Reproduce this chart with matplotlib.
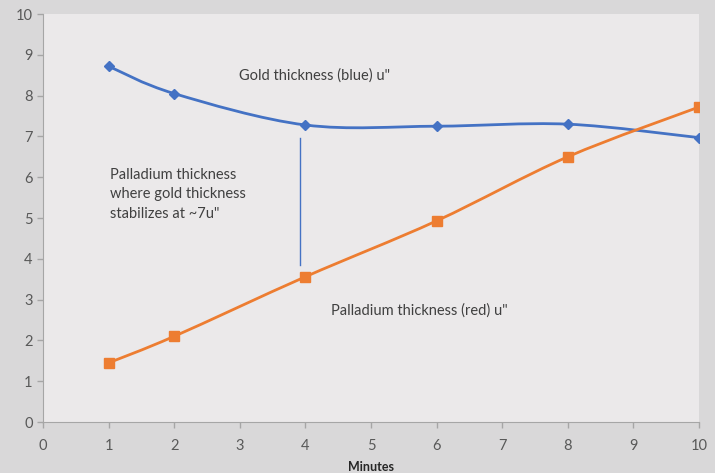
import matplotlib.pyplot as plt
import numpy as np
from matplotlib.path import Path
from matplotlib.patches import PathPatch

# data
minutes = [1, 2, 4, 6, 8, 10]
gold = [8.72, 8.05, 7.28, 7.25, 7.30, 6.97]
palladium = [1.45, 2.10, 3.56, 4.93, 6.50, 7.72]

x_ticks = list(range(0, 11))
y_ticks = list(range(0, 11))

BLUE = "#4472c4"
ORANGE = "#ed7d31"
TEXT = "#404040"
TICK = "#595959"

plt.rcParams["font.family"] = ["Lato", "DejaVu Sans"]


def smooth_path(xs, ys):
    # excel style smoothed line: catmull-rom segments as cubic beziers
    pts = np.column_stack([xs, ys]).astype(float)
    verts = [pts[0]]
    codes = [Path.MOVETO]
    n = len(pts)
    for i in range(n - 1):
        p0 = pts[i - 1] if i > 0 else pts[i]
        p1 = pts[i]
        p2 = pts[i + 1]
        p3 = pts[i + 2] if i + 2 < n else pts[i + 1]
        c1 = p1 + (p2 - p0) / 6.0
        c2 = p2 - (p3 - p1) / 6.0
        verts += [c1, c2, p2]
        codes += [Path.CURVE4] * 3
    return Path(verts, codes)


fig = plt.figure(figsize=(7.15, 4.73), dpi=100, facecolor="#d9d8d9")
ax = fig.add_axes([0.0601, 0.1078, 0.9175, 0.8626])
ax.set_facecolor("#ebe9ea")

ax.add_patch(PathPatch(smooth_path(minutes, gold), fill=False,
                       edgecolor=BLUE, lw=2.0, zorder=3))
ax.add_patch(PathPatch(smooth_path(minutes, palladium), fill=False,
                       edgecolor=ORANGE, lw=2.0, zorder=3))
ax.plot(minutes, gold, ls="none", marker="D", ms=5, color=BLUE, zorder=4)
ax.plot(minutes, palladium, ls="none", marker="s", ms=6.5, color=ORANGE, zorder=4)

# annotation line
ax.plot([3.92, 3.92], [3.86, 6.95], color=BLUE, lw=1, zorder=2)

ax.text(2.99, 8.5, 'Gold thickness (blue) u"', fontsize=10.5, color=TEXT,
        va="center", ha="left")
ax.text(1.02, 5.58, 'Palladium thickness\nwhere gold thickness\nstabilizes at ~7u"',
        fontsize=10.5, color=TEXT, va="center", ha="left", linespacing=1.5)
ax.text(4.39, 2.72, 'Palladium thickness (red) u"', fontsize=10.5, color=TEXT,
        va="center", ha="left")

ax.set_xlim(0, 10)
ax.set_ylim(0, 10)
ax.set_xticks(x_ticks)
ax.set_yticks(y_ticks)
ax.tick_params(axis="both", colors="#a6a6a6", labelcolor=TICK, labelsize=10.5,
               length=4, width=1)
ax.tick_params(axis="x", pad=8)

for side in ["top", "right"]:
    ax.spines[side].set_visible(False)
for side in ["left", "bottom"]:
    ax.spines[side].set_color("#a6a6a6")

ax.set_xlabel("Minutes", fontsize=9, fontweight="bold", color="#262626", labelpad=6)

fig.savefig("out.png", dpi=100, facecolor=fig.get_facecolor())
